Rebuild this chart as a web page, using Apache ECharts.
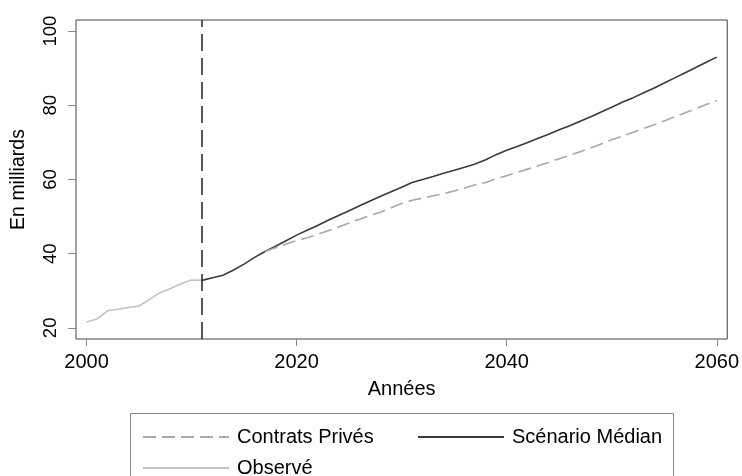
<!DOCTYPE html>
<html>
<head>
<meta charset="utf-8">
<script src="https://cdn.jsdelivr.net/npm/echarts@6/dist/echarts.min.js"></script>
<style>
  html, body { margin: 0; padding: 0; background: #fff; }
  #chart { width: 742px; height: 476px; }
</style>
</head>
<body>
<div id="chart"></div>
<script>
// years for each series
function years(from, to) {
  var out = [];
  for (var y = from; y <= to; y++) out.push(y);
  return out;
}
var observedYears = years(2000, 2011);
var medianYears = years(2011, 2060);
var privateYears = years(2017, 2060);

// values, in milliards
var observed = [21.6, 22.4, 24.6, 25.0, 25.5, 25.9, 27.7, 29.5, 30.6, 31.9, 32.9, 32.8];
var median = [
  32.8, 33.5, 34.2, 35.6, 37.2, 39.0, 40.6, 42.0, 43.5, 45.0,
  46.3, 47.6, 49.0, 50.3, 51.6, 52.9, 54.2, 55.5, 56.7, 57.9,
  59.2, 60.0, 60.8, 61.7, 62.5, 63.3, 64.2, 65.3, 66.7, 67.9,
  68.9, 70.0, 71.1, 72.2, 73.4, 74.5, 75.7, 76.9, 78.2, 79.5,
  80.8, 82.0, 83.3, 84.6, 86.0, 87.4, 88.8, 90.2, 91.6, 93.0
];
var privateContracts = [
  40.6, 41.6, 42.6, 43.5,
  44.3, 45.2, 46.2, 47.2, 48.3, 49.3, 50.3, 51.2, 52.4, 53.5,
  54.4, 55.0, 55.6, 56.2, 56.9, 57.7, 58.6, 59.2, 60.2, 61.0,
  61.9, 62.8, 63.7, 64.6, 65.6, 66.5, 67.5, 68.5, 69.6, 70.7,
  71.7, 72.7, 73.7, 74.7, 75.8, 76.9, 78.0, 79.1, 80.2, 81.3
];
var xTicks = [2000, 2020, 2040, 2060];
var yTicks = [20, 40, 60, 80, 100];
var cutYear = 2011;

function pairs(xs, vs) {
  return xs.map(function (x, i) { return [x, vs[i]]; });
}

var FONT = "Liberation Sans";

var legendBase = {
  orient: "horizontal",
  itemWidth: 86,
  itemHeight: 20,
  itemStyle: { opacity: 0 },
  textStyle: { fontFamily: FONT, fontSize: 20, color: "#000", padding: [0, 0, 0, 3] },
  selectedMode: false,
};

var option = {
  animation: false,
  grid: {
    left: 76,
    right: 14,
    top: 20,
    bottom: 137,
    show: true,
    borderColor: "#444",
    borderWidth: 1,
    backgroundColor: "#fff",
  },
  xAxis: {
    type: "value",
    min: 1999,
    max: 2061,
    name: "Années",
    nameLocation: "middle",
    nameGap: 40,
    nameTextStyle: { fontFamily: FONT, fontSize: 20, color: "#000" },
    axisLine: { show: false },
    splitLine: { show: false },
    axisTick: { show: true, length: 7, customValues: xTicks, lineStyle: { color: "#888" } },
    axisLabel: {
      customValues: xTicks,
      margin: 13,
      fontFamily: FONT,
      fontSize: 20,
      color: "#000",
      formatter: function (v) { return String(v); },
    },
  },
  yAxis: {
    type: "value",
    min: 17,
    max: 103,
    name: "En milliards",
    nameLocation: "middle",
    nameGap: 47,
    nameTextStyle: { fontFamily: FONT, fontSize: 19.5, color: "#000" },
    axisLine: { show: false },
    splitLine: { show: false },
    axisTick: { show: true, length: 8, customValues: yTicks, lineStyle: { color: "#888" } },
    axisLabel: { customValues: yTicks, rotate: 90, margin: 16, fontFamily: FONT, fontSize: 18.5, color: "#000" },
  },
  legend: [
    Object.assign({}, legendBase, { left: 137, top: 422, data: ["Contrats Privés"] }),
    Object.assign({}, legendBase, { left: 412, top: 422, data: ["Scénario Médian"] }),
    Object.assign({}, legendBase, { left: 137, top: 453, data: ["Observé"] }),
  ],
  graphic: [
    {
      type: "rect",
      shape: { x: 130.5, y: 413.5, width: 543, height: 80 },
      style: { fill: "none", stroke: "#888", lineWidth: 1 },
      silent: true,
    },
  ],
  series: [
    {
      name: "Observé",
      type: "line",
      data: pairs(observedYears, observed),
      symbol: "none",
      lineStyle: { color: "#c2c2c2", width: 1.6 },
      itemStyle: { color: "#c2c2c2" },
      markLine: {
        silent: true,
        symbol: "none",
        label: { show: false },
        lineStyle: { color: "#222", width: 1.5, type: [17, 7] },
        data: [{ xAxis: cutYear }],
      },
    },
    {
      name: "Scénario Médian",
      type: "line",
      data: pairs(medianYears, median),
      symbol: "none",
      lineStyle: { color: "#3a3a3a", width: 1.6 },
      itemStyle: { color: "#3a3a3a" },
    },
    {
      name: "Contrats Privés",
      type: "line",
      data: pairs(privateYears, privateContracts),
      symbol: "none",
      lineStyle: { color: "#a8a8a8", width: 1.6, type: [13, 6] },
      itemStyle: { color: "#a8a8a8" },
    },
  ],
};

var myChart = echarts.init(document.getElementById("chart"), null, { renderer: "canvas" });
myChart.setOption(option);
</script>
</body>
</html>
